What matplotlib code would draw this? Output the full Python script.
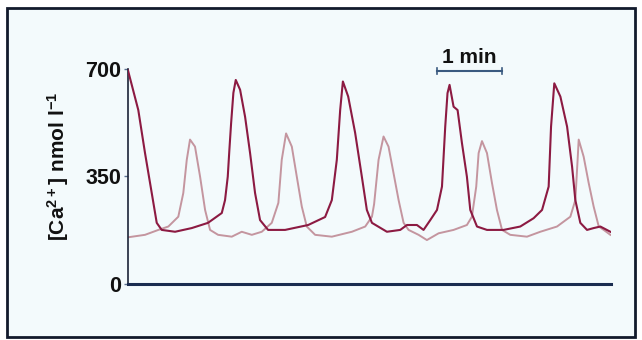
import matplotlib
matplotlib.use("Agg")
import matplotlib.pyplot as plt
from matplotlib.patches import Rectangle

# ---- data (time in s, [Ca2+] in nmol/l) ----
dark_t = [0, 9.5, 15.7, 21.9, 26.5, 31.1, 43.4, 58.8, 73.8, 86.5, 89.5, 92, 93.5, 95.1, 97.2, 99.4,
          103.4, 108, 112.6, 117.2, 121.8, 129.2, 144.9, 166.2, 181.8, 188, 192.6, 195.7,
          198.2, 203.1, 209.5, 215.7, 220.3, 225, 238.8, 251.1, 257.3, 266.5, 272.6, 278.8,
          285, 289.6, 292.6, 294.7, 296.6, 300.3, 304, 308, 312.6, 315.7, 321.9, 331.1,
          346.4, 361.8, 374.1, 381.9, 388, 390.2, 393.2, 398.8, 405, 409.6, 412.6, 417.2,
          423.4, 429.5, 435.7, 444.9]
dark_v = [695, 566, 426, 296, 199, 176, 170, 182, 199, 231, 273, 349, 436, 523, 622, 664,
          632, 544, 426, 296, 208, 176, 176, 192, 218, 273, 404, 566,
          659, 610, 492, 349, 241, 199, 170, 176, 192, 192, 176, 208,
          241, 317, 512, 621, 648, 577, 566, 459, 349, 241, 187, 176,
          176, 187, 214, 241, 317, 512, 653, 610, 512, 382, 273, 199,
          176, 182, 187, 170]

light_t = [0, 15.7, 28, 37.2, 46.4, 51, 54.2, 57.2, 61.8, 66.5, 71.1, 75.7, 83.1, 95.7,
           104.9, 114.2, 123.4, 132.6, 138.7, 141.8, 145.8, 151.1, 155.7, 160.3, 164.9,
           172.6, 188, 206.5, 218.8, 225, 227, 231.1, 235.7, 240.3, 244.9, 249.6, 254.2,
           258.8, 268, 275.7, 286.5, 300.3, 312.6, 317.2, 321.2, 323.4, 326.5, 331.1,
           335.7, 340.3, 345, 352.6, 368, 380.3, 395.7, 408, 412.6, 414.7, 415.7, 420.3,
           424.9, 429.5, 434.2, 438.8, 444.9]
light_v = [152, 160, 176, 187, 219, 296, 404, 470, 447, 349, 241, 176, 160, 154,
           170, 160, 170, 199, 264, 404, 490, 447, 349, 252, 187,
           160, 154, 170, 187, 219, 260, 404, 480, 447, 361, 273, 199,
           176, 160, 143, 165, 176, 192, 219, 317, 426, 465, 426,
           329, 241, 176, 160, 154, 170, 187, 219, 273, 404, 470, 414,
           329, 252, 187, 176, 160]

y_ticks = [0, 350, 700]
scale_bar = (285, 345)   # 1 min
scale_label = "1 min"
y_label = r"[Ca$^{2+}$] nmol l$^{-1}$"

plt.rcParams['font.family'] = ['Liberation Sans', 'DejaVu Sans']
plt.rcParams['mathtext.fontset'] = 'custom'
plt.rcParams['mathtext.rm'] = 'Liberation Sans:bold'
plt.rcParams['mathtext.bf'] = 'Liberation Sans:bold'
plt.rcParams['mathtext.default'] = 'bf'

W, H = 642, 340
fig = plt.figure(figsize=(W / 100, H / 100), dpi=100)
fig.patch.set_facecolor('white')

# outer frame
frame = Rectangle((7 / W, 3 / H), 628 / W, 329 / H, transform=fig.transFigure,
                  facecolor='#f3fafc', edgecolor='#121a2c', linewidth=2.0, zorder=-5)
fig.add_artist(frame)

ax = fig.add_axes([128 / W, 56 / H, 483 / W, 244 / H])
ax.set_zorder(2)
ax.set_facecolor('none')
ax.set_xlim(0, 445.5)
ax.set_ylim(0, 794)

ax.plot(light_t, light_v, color='#c4959f', lw=1.4, zorder=2)
ax.plot(dark_t, dark_v, color='#8c1a42', lw=1.5, zorder=3)

for s in ['top', 'right']:
    ax.spines[s].set_visible(False)
ax.spines['left'].set_bounds(0, 700)
ax.spines['left'].set_color('#1c2438')
ax.spines['left'].set_linewidth(1.2)
ax.spines['bottom'].set_color('#1a2c50')
ax.spines['bottom'].set_linewidth(2.2)
ax.set_xticks([])
ax.set_yticks(y_ticks)
ax.set_yticklabels([str(v) for v in y_ticks])
ax.tick_params(axis='y', length=3, width=1, color='#5a7090', pad=2,
               labelsize=15.5, labelcolor='#111111')
for lab in ax.get_yticklabels():
    lab.set_fontweight('bold')

# scale bar
ax.plot(list(scale_bar), [694, 694], color='#3a5a80', lw=1.5, zorder=4, clip_on=False)
for xb in scale_bar:
    ax.plot([xb, xb], [684, 704], color='#3a5a80', lw=1.2, zorder=4, clip_on=False)
ax.text(sum(scale_bar) / 2, 706, scale_label, ha='center', va='bottom',
        fontsize=15, fontweight='bold', color='#111111')

fig.text(58 / W, 1 - 166 / H, y_label, rotation=90, ha='center', va='center',
         fontsize=15, fontweight='bold', color='#111111')

fig.savefig('out.png', dpi=100, facecolor='white')
